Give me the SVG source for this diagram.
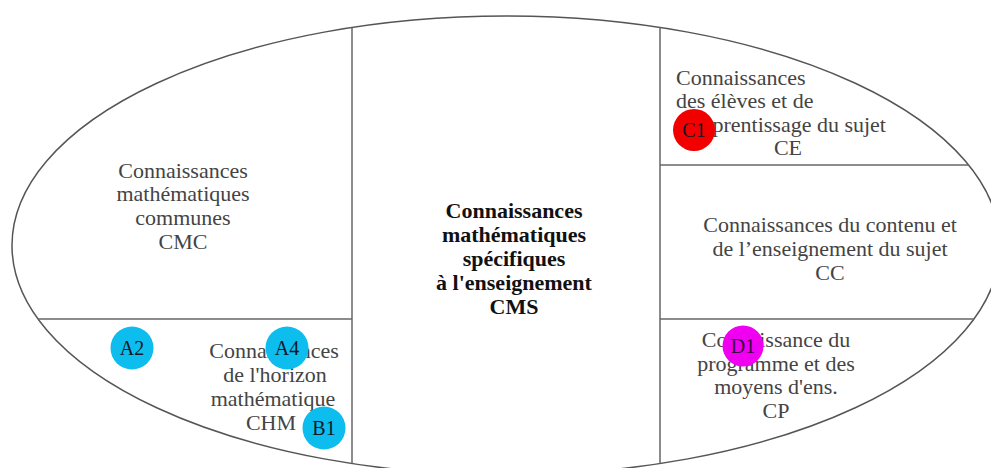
<svg xmlns="http://www.w3.org/2000/svg" width="991" height="468" viewBox="0 0 991 468">
  <style>
    .outline { fill: #ffffff; stroke: #555555; stroke-width: 1.5; }
    .part { stroke: #666666; stroke-width: 1.5; fill: none; }
    .lbl { font-family: "Liberation Serif", "Times New Roman", serif; font-size: 22px; fill: #444444; text-anchor: middle; }
    .main { font-family: "Liberation Serif", "Times New Roman", serif; font-size: 22px; font-weight: bold; fill: #111111; text-anchor: middle; }
    .dot { stroke: none; }
    .dot-blue { fill: #0cbdee; }
    .dot-red { fill: #f20000; }
    .dot-mag { fill: #f000f0; }
    .tag { font-family: "Liberation Serif", "Times New Roman", serif; font-size: 20px; fill: #101828; text-anchor: middle; }
  </style>

  <rect x="0" y="0" width="991" height="468" fill="#ffffff"/>

  <!-- outer ellipse and the lines dividing it into knowledge domains -->
  <g id="partitions">
    <ellipse class="outline" cx="506" cy="245.5" rx="494" ry="229.5"/>
    <line class="part" x1="352" y1="27.5" x2="352" y2="463.5"/>
    <line class="part" x1="660" y1="27.5" x2="660" y2="463.5"/>
    <line class="part" x1="38" y1="319" x2="352" y2="319"/>
    <line class="part" x1="660" y1="165" x2="969" y2="165"/>
    <line class="part" x1="660" y1="319" x2="974" y2="319"/>
  </g>

  <g id="cmc">
    <text class="lbl" x="183" y="178">Connaissances</text>
    <text class="lbl" x="183" y="201">mathématiques</text>
    <text class="lbl" x="183" y="225">communes</text>
    <text class="lbl" x="183" y="249">CMC</text>
  </g>

  <g id="chm">
    <text class="lbl" x="274" y="358">Connaissances</text>
    <text class="lbl" x="275" y="382">de l'horizon</text>
    <text class="lbl" x="273" y="406">mathématique</text>
    <text class="lbl" x="271" y="430">CHM</text>
  </g>

  <g id="cms">
    <text class="main" x="514" y="218">Connaissances</text>
    <text class="main" x="514" y="242">mathématiques</text>
    <text class="main" x="514" y="266">spécifiques</text>
    <text class="main" x="514" y="290">à l'enseignement</text>
    <text class="main" x="514" y="314">CMS</text>
  </g>

  <g id="ce">
    <text class="lbl" x="676" y="85" style="text-anchor:start">Connaissances</text>
    <text class="lbl" x="676" y="108" style="text-anchor:start">des élèves et de</text>
    <text class="lbl" x="886" y="132" style="text-anchor:end">apprentissage du sujet</text>
    <text class="lbl" x="788" y="155">CE</text>
  </g>

  <g id="cc">
    <text class="lbl" x="830" y="232">Connaissances du contenu et</text>
    <text class="lbl" x="830" y="256">de l’enseignement du sujet</text>
    <text class="lbl" x="830" y="280">CC</text>
  </g>

  <g id="cp">
    <text class="lbl" x="776" y="347">Connaissance du</text>
    <text class="lbl" x="776" y="371">programme et des</text>
    <text class="lbl" x="776" y="394">moyens d'ens.</text>
    <text class="lbl" x="776" y="418">CP</text>
  </g>

  <!-- item markers placed over the domains -->
  <g id="A2">
    <circle class="dot dot-blue" cx="132" cy="348" r="21.5"/>
    <text class="tag" x="132" y="355">A2</text>
  </g>
  <g id="A4">
    <circle class="dot dot-blue" cx="287" cy="348" r="21.5"/>
    <text class="tag" x="287" y="355">A4</text>
  </g>
  <g id="B1">
    <circle class="dot dot-blue" cx="324" cy="428" r="21.5"/>
    <text class="tag" x="324" y="435">B1</text>
  </g>
  <g id="C1">
    <circle class="dot dot-red" cx="694" cy="130" r="21"/>
    <text class="tag" x="694" y="137">C1</text>
  </g>
  <g id="D1">
    <circle class="dot dot-mag" cx="743" cy="346" r="20.5"/>
    <text class="tag" x="743" y="353" style="fill:#3a0040">D1</text>
  </g>
</svg>
